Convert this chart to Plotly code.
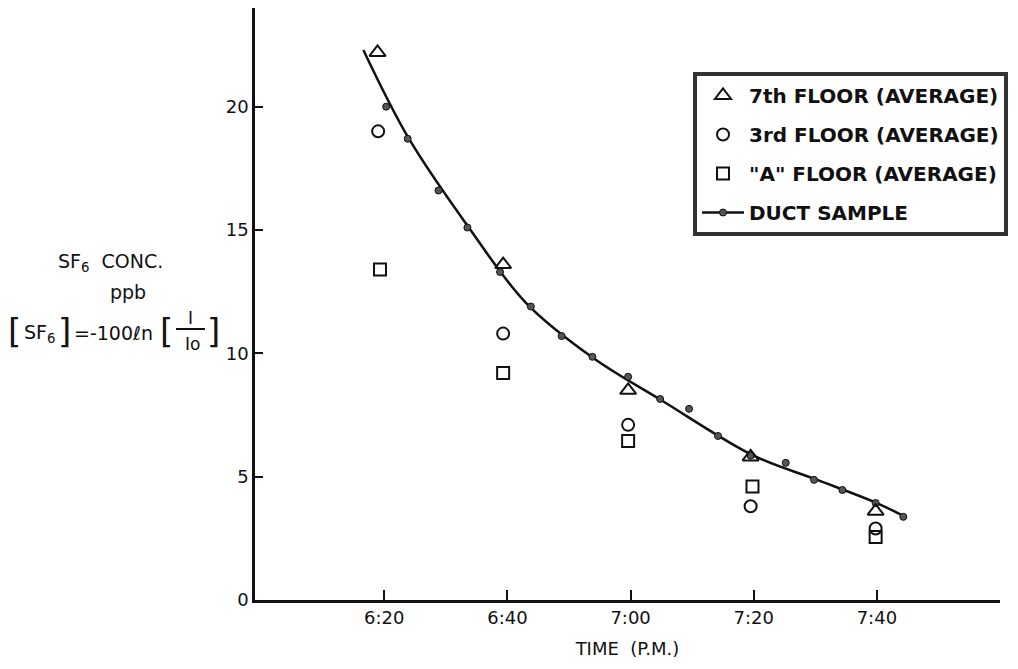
import plotly.graph_objects as go

# minutes after 6:00 P.M.
tick_minutes = [20, 40, 60, 80, 100]
tick_labels = ["6:20", "6:40", "7:00", "7:20", "7:40"]
y_ticks = [0, 5, 10, 15, 20]

t7 = [18.9, 39.3, 59.6, 79.5, 99.8]
floor7 = [22.2, 13.6, 8.5, 5.8, 3.6]
t3 = [19.0, 39.3, 59.6, 79.5, 99.8]
floor3 = [19.0, 10.8, 7.1, 3.8, 2.9]
tA = [19.3, 39.3, 59.6, 79.8, 99.8]
floorA = [13.4, 9.2, 6.45, 4.6, 2.55]

duct_t = [20.3, 23.8, 28.8, 33.5, 38.8, 43.8, 48.8, 53.8, 59.6, 64.8, 69.5, 74.2,
          79.5, 85.2, 89.8, 94.4, 99.8, 104.3]
duct = [20.0, 18.7, 16.6, 15.1, 13.3, 11.9, 10.7, 9.86, 9.05, 8.15, 7.75, 6.65,
        5.85, 5.56, 4.87, 4.46, 3.93, 3.37]

curve_t = [16.6, 24.0, 34.0, 43.0, 54.0, 65.0, 80.0, 90.0, 100.0, 104.6]
curve = [22.3, 18.7, 15.0, 12.05, 9.8, 8.1, 5.85, 4.9, 3.93, 3.37]

FONT = "DejaVu Sans"
INK = "#111111"

# page offset of the html body (8 px default margin)
OFF = 8
L, R, T, B = 247, 26, 0, 77
PW, PH = 1018 - L - R, 669 - T - B


def px(xp):
    return (xp - OFF - L) / PW


def py(yp):
    return (669 - B - (yp - OFF)) / PH


fig = go.Figure()

fig.add_trace(go.Scatter(x=curve_t, y=curve, mode="lines", showlegend=False,
                         line=dict(color=INK, width=2.5, shape="spline", smoothing=1.0),
                         hoverinfo="skip"))
fig.add_trace(go.Scatter(x=duct_t, y=duct, mode="markers", showlegend=False,
                         marker=dict(symbol="circle", size=7, color="#555555",
                                     line=dict(color=INK, width=1))))

fig.add_trace(go.Scatter(x=t7, y=floor7, mode="markers", name="<b>7th FLOOR (AVERAGE)</b>",
                         legendgroup="a",
                         marker=dict(symbol="triangle-up-open", size=14, color=INK,
                                     line=dict(width=2))))
fig.add_trace(go.Scatter(x=t3, y=floor3, mode="markers", name="<b>3rd FLOOR (AVERAGE)</b>",
                         legendgroup="b",
                         marker=dict(symbol="circle-open", size=12, color=INK,
                                     line=dict(width=2))))
fig.add_trace(go.Scatter(x=tA, y=floorA, mode="markers",
                         name="<b>\"A\" FLOOR (AVERAGE)</b>", legendgroup="c",
                         marker=dict(symbol="square-open", size=12, color=INK,
                                     line=dict(width=2))))
fig.add_trace(go.Scatter(x=[None], y=[None], mode="lines+markers", name="<b>DUCT SAMPLE</b>",
                         legendgroup="d",
                         line=dict(color=INK, width=2.5),
                         marker=dict(symbol="circle", size=7, color="#555555",
                                     line=dict(color=INK, width=1))))

# y-axis title block (page pixel positions)
texts = [
    (110, 262, "SF<sub>6</sub>  CONC.", 19),
    (128, 292, "ppb", 19),
    (39, 333, "SF<sub>6</sub>", 19),
    (113, 333, "=-100ℓn", 19),
    (190, 318, "I", 17),
    (192, 344, "Io", 17),
    (14, 331, "[", 34),
    (64, 331, "]", 34),
    (166, 331, "[", 34),
    (213, 331, "]", 34),
]
for x, y, t, s in texts:
    fig.add_annotation(x=px(x), y=py(y), xref="paper", yref="paper", text=t,
                       showarrow=False, font=dict(family=FONT, size=s, color=INK),
                       xanchor="center", yanchor="middle")
fig.add_shape(type="line", xref="paper", yref="paper",
              x0=px(176), x1=px(205), y0=py(329), y1=py(329),
              line=dict(color=INK, width=2))

fig.update_layout(
    width=1018, height=669,
    margin=dict(l=L, r=R, t=T, b=B),
    paper_bgcolor="white", plot_bgcolor="white",
    font=dict(family=FONT, size=17, color=INK),
    showlegend=True,
    legend=dict(x=px(693), y=py(72), xanchor="left", yanchor="top",
                bgcolor="white", bordercolor="#333333", borderwidth=4,
                font=dict(family=FONT, size=20, color=INK),
                tracegroupgap=10, itemsizing="trace", itemwidth=42),
    xaxis=dict(range=[-1, 120], showline=True, linecolor=INK, linewidth=2.5,
               showgrid=False, zeroline=False, ticks="inside", ticklen=10,
               tickwidth=1.5, tickcolor=INK, tickvals=tick_minutes, ticktext=tick_labels,
               tickfont=dict(family=FONT, size=18, color=INK),
               title=dict(text="TIME  (P.M.)", font=dict(family=FONT, size=18, color=INK),
                          standoff=16)),
    yaxis=dict(range=[0, 24], showline=True, linecolor=INK, linewidth=2.5,
               showgrid=False, zeroline=False, ticks="inside", ticklen=8,
               tickwidth=1.5, tickcolor=INK, tickvals=y_ticks,
               tickfont=dict(family=FONT, size=18, color=INK)),
)

fig.write_html("out.html")
